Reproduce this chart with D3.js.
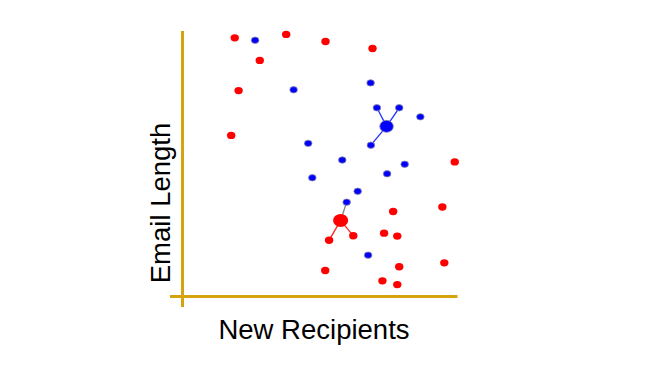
<!DOCTYPE html>
<html><head><meta charset="utf-8">
<script src="https://cdn.jsdelivr.net/npm/d3@7"></script>
<style>body{margin:0;background:#fff}</style>
</head><body>
<svg id="c" width="670" height="368"></svg>
<script>
const redX = [1.90,3.77,2.81,2.04,1.77,5.20,6.91,9.90,7.66,9.45,5.33,6.21,7.33,7.81,5.19,7.88,9.52,7.27,7.81];
const redY = [9.76,9.89,8.91,7.77,6.08,9.62,9.36,5.08,3.21,3.38,2.12,2.29,2.39,2.28,0.98,1.12,1.27,0.59,0.45];
const blueX = [2.64,4.04,4.57,6.84,7.07,7.88,8.65,6.85,5.81,8.08,4.72,7.44,6.37,5.97,6.75];
const blueY = [9.67,7.80,5.78,8.06,7.12,7.12,6.78,5.71,5.15,4.99,4.48,4.63,3.97,3.56,1.56];
const centroidX = [5.75, 7.42]; // red, blue
const centroidY = [2.87, 6.42];
const redLinks = [10, 11];      // indices into red points
const blueLinks = [4, 5, 7];    // indices into blue points
const crossLinks = [13];        // blue points linked to red centroid
const xLabel = "New Recipients";
const yLabel = "Email Length";

const svg = d3.select("#c");
const x = d3.scaleLinear().domain([0,10]).range([182.5,457.5]);
const y = d3.scaleLinear().domain([0,10]).range([296.5,31.5]);
const axisColor = "#d4a30e";

// axes
svg.append("line").attr("x1", x(0)).attr("x2", x(0)).attr("y1", 31).attr("y2", 307)
  .attr("stroke", axisColor).attr("stroke-width", 3);
svg.append("line").attr("x1", 170).attr("x2", 457.5).attr("y1", y(0)).attr("y2", y(0))
  .attr("stroke", axisColor).attr("stroke-width", 3);

// links
const g = svg.append("g");
redLinks.forEach(i => g.append("line")
  .attr("x1", x(centroidX[0])).attr("y1", y(centroidY[0]))
  .attr("x2", x(redX[i])).attr("y2", y(redY[i]))
  .attr("stroke", "#ff2020").attr("stroke-width", 1.3));
crossLinks.forEach(i => g.append("line")
  .attr("x1", x(centroidX[0])).attr("y1", y(centroidY[0]))
  .attr("x2", x(blueX[i])).attr("y2", y(blueY[i]))
  .attr("stroke", "#808080").attr("stroke-width", 1.3));
blueLinks.forEach(i => g.append("line")
  .attr("x1", x(centroidX[1])).attr("y1", y(centroidY[1]))
  .attr("x2", x(blueX[i])).attr("y2", y(blueY[i]))
  .attr("stroke", "#2030ff").attr("stroke-width", 1.3));

// points
svg.append("g").selectAll("ellipse").data(redX.map((v,i)=>[v,redY[i]])).join("ellipse")
  .attr("cx", d=>x(d[0])).attr("cy", d=>y(d[1])).attr("rx", 4.2).attr("ry", 3.7)
  .attr("fill", "#ff0000");
svg.append("g").selectAll("ellipse").data(blueX.map((v,i)=>[v,blueY[i]])).join("ellipse")
  .attr("cx", d=>x(d[0])).attr("cy", d=>y(d[1])).attr("rx", 3.8).attr("ry", 3.2)
  .attr("fill", "#0000ff").attr("stroke", "#8888aa").attr("stroke-width", 0.8);

// centroids
svg.append("ellipse").attr("cx", x(centroidX[0])).attr("cy", y(centroidY[0]))
  .attr("rx", 7.5).attr("ry", 6.5).attr("fill", "#ff0000");
svg.append("ellipse").attr("cx", x(centroidX[1])).attr("cy", y(centroidY[1]))
  .attr("rx", 6.8).attr("ry", 6).attr("fill", "#0000ff").attr("stroke", "#8888aa").attr("stroke-width", 0.8);

// labels
svg.append("text").attr("x", 314).attr("y", 339).attr("text-anchor", "middle")
  .attr("font-family", "Liberation Sans, Arial, sans-serif").attr("font-size", 27.5)
  .attr("fill", "#000").text(xLabel);
svg.append("text").attr("transform", "translate(170,203) rotate(-90)").attr("text-anchor", "middle")
  .attr("font-family", "Liberation Sans, Arial, sans-serif").attr("font-size", 27.5)
  .attr("fill", "#000").text(yLabel);
</script>
</body></html>
